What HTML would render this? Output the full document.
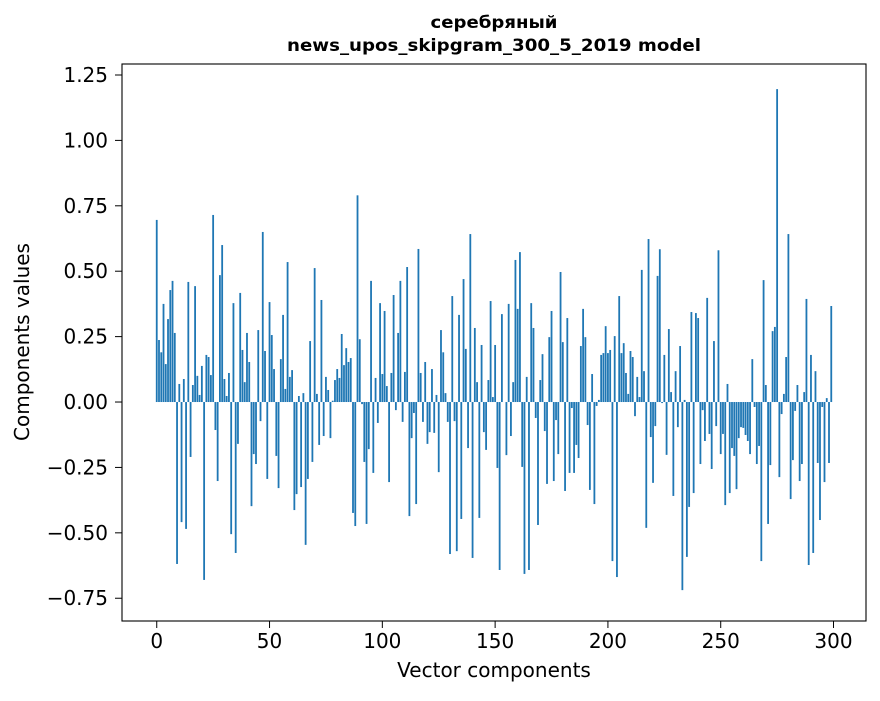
<!DOCTYPE html>
<html><head><meta charset="utf-8"><style>
body{margin:0;background:#fff;}
svg text{font-family:"DejaVu Sans","Liberation Sans",sans-serif;fill:#000;}
</style></head><body>
<svg id="chart" width="880" height="696" viewBox="0 0 880 696" xmlns="http://www.w3.org/2000/svg">
<rect width="880" height="696" fill="#fff"/>
<text x="494" y="28" text-anchor="middle" font-size="17" font-weight="bold" textLength="127" lengthAdjust="spacingAndGlyphs">серебряный</text>
<text x="494" y="51" text-anchor="middle" font-size="17" font-weight="bold" textLength="414" lengthAdjust="spacingAndGlyphs">news_upos_skipgram_300_5_2019 model</text>
<g id="bars"></g>
<g id="xticks"></g>
<g id="yticks"></g>
<rect x="122" y="64" width="744" height="557" fill="none" stroke="#000" stroke-width="1.1"/>
<text x="494" y="677" text-anchor="middle" font-size="20">Vector components</text>
<text transform="translate(29,342) rotate(-90)" text-anchor="middle" font-size="20">Components values</text>
</svg>
<script>
const valuesA=[0.696,0.237,0.19,0.375,0.145,0.317,0.428,0.463,0.264,-0.619,0.069,-0.459,0.088,-0.485,0.459,-0.21,0.065,0.443,0.10,0.027,0.138,-0.68,0.18,0.172,0.103,0.715,-0.107,-0.302,0.485,0.60,0.088,0.023,0.111,-0.505,0.378,-0.577,-0.16,0.417,0.199,0.076,0.264,0.153,-0.398,-0.199,-0.237,0.275,-0.073,0.65,0.195,-0.294,0.382];
const valuesB=[0.256,0.126,-0.206,-0.329,0.164,0.333,0.05,0.535,0.096,0.122,-0.413,-0.352,0.023,-0.325,0.034,-0.546,-0.294,0.233,-0.229,0.512,0.031,-0.164,0.39,-0.13,0.096,0.046,-0.138,0.005,0.084,0.126,0.092,0.26,0.141,0.206,0.153,0.168,-0.424,-0.474,0.79,0.24,-0.008,-0.229,-0.466,-0.18,0.463,-0.271,0.092,-0.08,0.378,0.107,0.348];
const valuesC=[0.061,-0.306,0.111,0.409,-0.031,0.264,0.463,-0.076,0.115,0.516,-0.436,-0.138,-0.042,-0.39,0.585,0.111,-0.076,0.153,-0.16,-0.115,0.126,-0.118,0.027,-0.268,0.275,0.19,0.034,-0.076,-0.581,0.405,-0.073,-0.57,0.333,-0.447,0.47,0.203,-0.176,0.642,-0.596,0.283,0.076,-0.443,0.218,-0.115,-0.183,0.084,0.386,0.019,0.218,-0.252,-0.642];
const valuesD=[0.336,0.0,-0.203,0.375,-0.13,0.076,0.543,0.356,0.573,-0.248,-0.657,0.096,-0.642,0.378,0.283,-0.061,-0.47,0.084,0.183,-0.111,-0.313,0.248,0.348,-0.302,-0.069,-0.199,0.497,0.229,-0.34,0.321,-0.271,-0.023,-0.271,-0.164,-0.214,0.214,0.356,0.248,-0.088,-0.336,0.107,-0.39,-0.015,0.008,0.18,0.187,0.29,0.187,0.199,-0.608];
const valuesE=[0.252,-0.669,0.405,0.187,0.225,0.111,0.031,0.195,0.172,-0.054,0.096,0.019,0.505,0.118,-0.481,0.623,-0.134,-0.309,-0.092,0.482,0.584,-0.004,0.18,-0.202,0.279,0.038,-0.359,0.118,-0.096,0.214,-0.719,0.008,-0.592,-0.401,0.344,-0.348,0.34,0.321,-0.237,-0.031,-0.149,0.398,-0.122,-0.256,0.233,-0.092,0.58,-0.199,-0.122,-0.394,0.069];
const valuesF=[-0.348,-0.176,-0.206,-0.333,-0.138,-0.096,-0.099,-0.126,-0.149,-0.199,0.164,-0.019,-0.237,-0.168,-0.608,0.466,0.065,-0.466,-0.241,0.271,0.287,1.196,-0.287,-0.046,0.031,0.172,0.642,-0.371,-0.222,-0.034,0.065,-0.302,-0.237,0.038,0.394,-0.623,0.18,-0.577,0.118,-0.233,-0.451,-0.019,-0.306,0.015,-0.233,0.367];
const xTickValues=[0,50,100,150,200,250,300];
const yTickValues=[-0.75,-0.5,-0.25,0,0.25,0.5,0.75,1.0,1.25];
const yTickLabels=["\u22120.75","\u22120.50","\u22120.25","0.00","0.25","0.50","0.75","1.00","1.25"];

const values=valuesA.concat(valuesB,valuesC,valuesD,valuesE,valuesF);
const NS="http://www.w3.org/2000/svg";
const L=122,R=866,T=64,B=621;
const xMin=-15.4,xMax=314.4,yMin=-0.837,yMax=1.292;
function xs(v){return L+(v-xMin)/(xMax-xMin)*(R-L);}
function ys(v){return B-(v-yMin)/(yMax-yMin)*(B-T);}
const bars=document.getElementById('bars');
values.forEach((v,i)=>{
  const r=document.createElementNS(NS,'rect');
  const x0=xs(i-0.4),x1=xs(i+0.4);
  const y0=ys(Math.max(v,0)),y1=ys(Math.min(v,0));
  r.setAttribute('x',x0);r.setAttribute('width',x1-x0);
  r.setAttribute('y',y0);r.setAttribute('height',Math.max(y1-y0,0.01));
  r.setAttribute('fill','#1f77b4');
  
  
  bars.appendChild(r);
});
const xt=document.getElementById('xticks');
xTickValues.forEach(v=>{
  const x=xs(v);
  const l=document.createElementNS(NS,'line');
  l.setAttribute('x1',x);l.setAttribute('x2',x);l.setAttribute('y1',B);l.setAttribute('y2',B+7);
  l.setAttribute('stroke','#000');
  
  
  xt.appendChild(l);
  const t=document.createElementNS(NS,'text');
  t.setAttribute('x',x);t.setAttribute('y',B+27);t.setAttribute('text-anchor','middle');t.setAttribute('font-size','20');
  t.textContent=String(v);
  
  
  xt.appendChild(t);
});
const yt=document.getElementById('yticks');
yTickValues.forEach((v,i)=>{
  const y=ys(v);
  const l=document.createElementNS(NS,'line');
  l.setAttribute('x1',L-7);l.setAttribute('x2',L);l.setAttribute('y1',y);l.setAttribute('y2',y);
  l.setAttribute('stroke','#000');
  
  
  yt.appendChild(l);
  const t=document.createElementNS(NS,'text');
  t.setAttribute('x',L-14);t.setAttribute('y',y+7);t.setAttribute('text-anchor','end');t.setAttribute('font-size','20');
  t.textContent=yTickLabels[i];
  
  
  yt.appendChild(t);
});
</script>
</body></html>
